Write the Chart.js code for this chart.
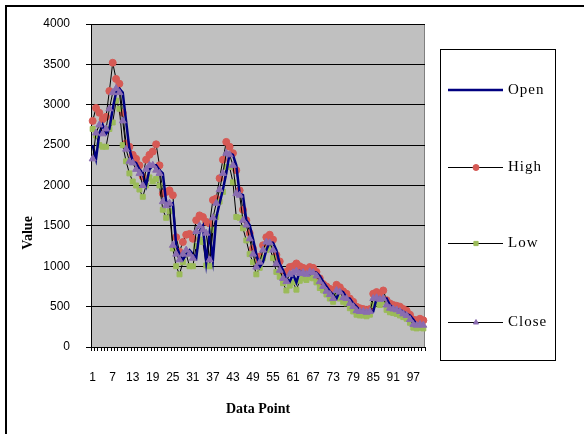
<!DOCTYPE html>
<html>
<head>
<meta charset="utf-8">
<script src="https://cdn.jsdelivr.net/npm/chart.js@4.4.1/dist/chart.umd.min.js"></script>
<style>
  html, body { margin: 0; padding: 0; background: #fff; }
  #wrap { width: 584px; height: 434px; }
</style>
</head>
<body>
<div id="wrap"><canvas id="chart" width="584" height="434"></canvas></div>
<script>
// categories 1..100 (data point index)
const categories = Array.from({ length: 100 }, (_, i) => String(i + 1));
// only every 6th label is printed on the axis
const shownLabels = ['1', '7', '13', '19', '25', '31', '37', '43', '49', '55', '61', '67', '73', '79', '85', '91', '97'];

const openVals = [
  2500, 2330, 2650, 2750, 2640, 2700, 2950, 3150, 3200, 3150,
  2800, 2450, 2300, 2280, 2200, 2150, 2000, 2200, 2250, 2250,
  2190, 2150, 1800, 1750, 1780, 1260, 1150, 1080, 1150, 1200,
  1150, 1100, 1430, 1500, 1050, 1410, 1080, 1600, 1780, 1950,
  2150, 2400, 2380, 2250, 1900, 1880, 1570, 1510, 1340, 1150,
  990, 1050, 1200, 1300, 1290, 1200, 1030, 950, 850, 810,
  900, 800, 940, 910, 920, 900, 930, 920, 880, 810,
  750, 690, 650, 600, 700, 680, 610, 600, 540, 500,
  450, 440, 440, 430, 440, 600, 610, 590, 600, 520,
  480, 470, 460, 440, 410, 390, 340, 280, 270, 280
];
const highVals = [
  2800, 2960, 2900, 2820, 2850, 3170, 3520, 3320, 3260, 2900,
  2520, 2480, 2380, 2330, 2250, 2110, 2320, 2380, 2420, 2510,
  2250, 1900, 1920, 1940, 1880, 1360, 1180, 1300, 1390, 1400,
  1340, 1570, 1630, 1610, 1550, 1530, 1820, 1840, 2090, 2320,
  2540, 2480, 2400, 2190, 1940, 1700, 1570, 1410, 1220, 1050,
  1120, 1260, 1360, 1390, 1330, 1140, 1060, 900, 930, 990,
  1000, 1035, 1000, 980, 960, 990, 980, 930, 850, 780,
  750, 720, 700, 770, 740, 690, 660, 600, 560, 500,
  480, 470, 460, 470, 660, 680, 640, 700, 580, 540,
  520, 510, 500, 470, 450, 400, 340, 330, 350, 330
];
const lowVals = [
  2700, 2620, 2500, 2480, 2480, 2700, 2780, 3050, 2950, 2500,
  2300, 2150, 2050, 2000, 1950, 1860, 2000, 2100, 2050, 2080,
  2000, 1700, 1600, 1680, 1220, 1000, 900, 1050, 1150, 1000,
  1000, 1250, 1330, 1300, 1010, 1000, 1450, 1610, 1800, 1920,
  2230, 2230, 2040, 1610, 1600, 1470, 1320, 1150, 1050, 900,
  980, 1100, 1200, 1230, 1100, 930, 870, 790, 700, 760,
  800, 710, 820, 850, 830, 860, 850, 800, 730, 700,
  650, 600, 560, 640, 600, 560, 540, 480, 440, 400,
  390, 390, 380, 400, 520, 540, 520, 560, 460, 430,
  420, 410, 390, 370, 350, 300, 240, 230, 240, 230
];
const closeVals = [
  2330, 2650, 2750, 2640, 2700, 2950, 3150, 3200, 3150, 2800,
  2450, 2300, 2280, 2200, 2150, 2000, 2200, 2250, 2250, 2190,
  2150, 1800, 1750, 1780, 1260, 1150, 1080, 1150, 1200, 1150,
  1100, 1430, 1500, 1450, 1410, 1080, 1600, 1780, 1950, 2150,
  2400, 2380, 2250, 1900, 1880, 1570, 1510, 1340, 1150, 990,
  1050, 1200, 1300, 1290, 1200, 1030, 950, 850, 810, 900,
  920, 940, 910, 920, 900, 930, 920, 880, 810, 750,
  690, 650, 600, 700, 680, 610, 600, 540, 500, 450,
  440, 440, 430, 440, 600, 610, 590, 600, 520, 480,
  470, 460, 440, 410, 390, 340, 280, 270, 280, 270
];

const yMin = 0, yMax = 4000, yStep = 500;

const tickFont = { family: '"Liberation Sans", Arial, sans-serif', size: 12 };
const serifBold = '"Liberation Serif", "Times New Roman", serif';

// gray plot area, outer frame and the y title
const backdrop = {
  id: 'backdrop',
  beforeDraw(chart) {
    const { ctx, chartArea: a } = chart;
    ctx.save();
    ctx.fillStyle = '#fff';
    ctx.fillRect(0, 0, chart.width, chart.height);
    ctx.fillStyle = '#C0C0C0';
    ctx.fillRect(a.left, a.top, a.right - a.left, a.bottom - a.top);
    ctx.strokeStyle = '#808080';
    ctx.lineWidth = 1;
    ctx.strokeRect(a.left + 0.5, a.top + 0.5, a.right - a.left - 1, a.bottom - a.top);
    // outer frame (top + left edges)
    ctx.strokeStyle = '#000';
    ctx.lineWidth = 2;
    ctx.beginPath();
    ctx.moveTo(6, chart.height + 2);
    ctx.lineTo(6, 6);
    ctx.lineTo(chart.width + 2, 6);
    ctx.stroke();
    ctx.restore();
  },
  afterDraw(chart) {
    const { ctx } = chart;
    ctx.save();
    ctx.translate(28, 233);
    ctx.rotate(-Math.PI / 2);
    ctx.font = 'bold 14px ' + serifBold;
    ctx.fillStyle = '#000';
    ctx.textAlign = 'center';
    ctx.textBaseline = 'middle';
    ctx.fillText('Value', 0, 0);
    ctx.restore();
  }
};

// boxed legend on the right, one row per dataset
const boxLegend = {
  id: 'boxLegend',
  afterDraw(chart) {
    const { ctx } = chart;
    const rowsY = [90, 167, 243, 322];
    ctx.save();
    ctx.fillStyle = '#fff';
    ctx.fillRect(440, 49, 115, 311);
    ctx.strokeStyle = '#000';
    ctx.lineWidth = 1;
    ctx.strokeRect(440.5, 49.5, 115, 311);
    chart.data.datasets.forEach((ds, i) => {
      const y = rowsY[i];
      const ly = ds.borderWidth % 2 === 1 ? y + 0.5 : y;
      ctx.strokeStyle = ds.borderColor;
      ctx.lineWidth = ds.borderWidth;
      ctx.beginPath();
      ctx.moveTo(448, ly);
      ctx.lineTo(503, ly);
      ctx.stroke();
      if (ds.pointRadius > 0) {
        ctx.fillStyle = ds.pointBackgroundColor;
        ctx.strokeStyle = ds.pointBorderColor;
        Chart.helpers.drawPoint(ctx, {
          pointStyle: ds.pointStyle, radius: 3, rotation: 0, borderWidth: 1
        }, 476, ly);
      }
      ctx.fillStyle = '#000';
      ctx.font = '15px ' + serifBold;
      ctx.letterSpacing = '1px';
      ctx.textBaseline = 'middle';
      ctx.textAlign = 'left';
      ctx.fillText(ds.label, 508, y);
    });
    ctx.restore();
  }
};

function markerSet(label, values, style, color, radius, order) {
  return {
    label: label,
    data: values,
    borderColor: '#000',
    borderWidth: 1,
    pointStyle: style,
    pointRadius: radius,
    pointBackgroundColor: color,
    pointBorderColor: color,
    pointBorderWidth: 1,
    order: order
  };
}

new Chart(document.getElementById('chart'), {
  type: 'line',
  data: {
    labels: categories,
    datasets: [
      {
        label: 'Open', data: openVals, borderColor: '#000080', borderWidth: 2.5,
        pointRadius: 0, order: 1
      },
      markerSet('High', highVals, 'circle', '#D65A55', 3.5, 3),
      markerSet('Low', lowVals, 'rect', '#9BBB59', 3.5, 2),
      markerSet('Close', closeVals, 'triangle', '#8A6DB0', 4, 0)
    ]
  },
  options: {
    responsive: false,
    animation: false,
    layout: { padding: { left: 0, top: 24, right: 159, bottom: 0 } },
    plugins: {
      legend: { display: false },
      tooltip: { enabled: false }
    },
    scales: {
      x: {
        type: 'category',
        offset: true,
        grid: { drawOnChartArea: false, drawTicks: true, tickLength: 4, color: '#000', offset: true },
        border: { color: '#000', width: 1 },
        ticks: {
          autoSkip: false, maxRotation: 0, minRotation: 0, padding: 19,
          color: '#000', font: tickFont,
          callback: function (value) {
            const lab = this.getLabelForValue(value);
            return shownLabels.includes(lab) ? lab : '';
          }
        },
        title: {
          display: true, text: 'Data Point', color: '#000',
          font: { family: serifBold, size: 14, weight: 'bold' },
          padding: { top: 0, bottom: 16 }
        },
        afterFit: (scale) => { scale.height = 87; }
      },
      y: {
        min: yMin, max: yMax,
        grid: { color: '#000', lineWidth: 1, tickLength: 5 },
        border: { color: '#000', width: 1 },
        ticks: {
          stepSize: yStep, padding: 16, color: '#000', font: tickFont,
          callback: (value) => String(value)
        },
        afterFit: (scale) => { scale.width = 91; }
      }
    }
  },
  plugins: [backdrop, boxLegend]
});
</script>
</body>
</html>
